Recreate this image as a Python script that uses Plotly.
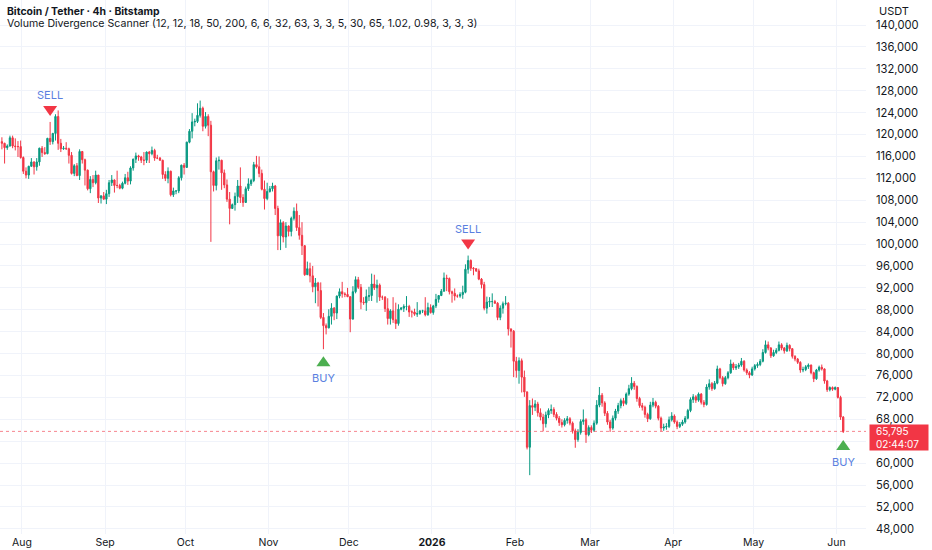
import pandas as pd
import plotly.graph_objects as go

# daily candles, thousands of USDT, 24 Jul 2025 -> 3 Jun 2026
opens = [
    118.7, 118.4, 117.6, 117.9, 119.4, 117.9, 117.8, 117.8,
    115.8, 113.3, 112.6, 114.2, 115.0, 114.1, 115.0, 117.5, 116.7, 116.5, 119.3, 118.7, 120.2, 123.3, 118.4, 117.4,
    117.5, 117.4, 116.2, 112.9, 114.3, 112.5, 116.9, 115.4, 113.5, 110.1, 111.8, 111.2, 112.6, 108.4, 108.8,
    108.2, 109.2, 111.2, 111.7, 110.7, 110.7, 110.2, 111.1, 112.1, 111.5, 113.9, 115.5, 116.1, 115.9, 115.3,
    115.3, 116.8, 116.5, 117.1, 115.7, 115.7, 115.3, 112.7, 112.0, 113.3, 109.0, 109.7, 109.7, 112.1, 114.4,
    114.0, 118.6, 120.6, 122.3, 122.4, 123.5, 124.8, 121.5, 123.3, 121.7, 113.2, 110.7, 115.2, 115.3, 113.0, 110.8,
    108.2, 106.5, 107.2, 108.7, 110.6, 108.5, 107.6, 110.1, 111.0, 111.6, 114.5, 114.1, 112.9, 110.0, 108.3,
    109.6, 110.1, 110.6, 106.5, 101.5, 103.9, 101.3, 103.3, 102.3, 104.7, 106.0, 103.0, 101.6, 99.7, 94.4,
    95.5, 94.2, 92.2, 92.9, 91.5, 86.6, 85.1, 84.7, 86.8, 88.3, 87.4, 90.5, 91.3, 90.9, 90.8,
    90.4, 86.3, 91.3, 93.5, 92.1, 89.4, 89.3, 90.4, 90.6, 92.7, 92.0, 92.5, 90.3, 90.3, 88.2, 86.4,
    87.8, 86.2, 85.5, 88.1, 88.3, 88.6, 88.6, 87.6, 87.6, 87.2, 87.3, 87.8, 87.8, 87.1, 88.4,
    87.5, 88.7, 89.9, 90.6, 91.4, 93.8, 93.7, 91.3, 91.0, 90.5, 90.5, 90.8, 91.2, 95.4, 97.0, 95.6,
    95.5, 95.1, 93.6, 92.6, 88.3, 89.4, 89.5, 89.5, 89.2, 86.6, 88.3, 89.1, 89.2, 84.5, 84.1,
    78.6, 76.9, 78.7, 75.7, 73.0, 62.9, 70.5, 70.2, 70.8, 69.2, 68.4, 67.2, 68.8, 69.6,
    69.8, 68.9, 68.2, 67.4, 67.0, 67.8, 68.1, 67.3, 65.9, 64.3, 65.6, 67.6, 67.9, 65.2,
    66.5, 66.0, 67.3, 70.6, 72.4, 71.0, 69.1, 67.5, 66.4, 68.2, 69.5, 70.5, 71.4, 70.9, 72.6, 73.6,
    74.6, 74.0, 71.8, 70.5, 70.2, 68.9, 68.1, 70.6, 71.1, 70.4, 68.2, 66.4, 66.6, 66.7, 67.9,
    68.6, 67.5, 66.7, 67.1, 67.5, 68.2, 69.6, 71.6, 72.1, 71.5, 72.6, 71.1, 70.7, 73.9, 74.5,
    73.6, 74.6, 77.2, 75.6, 74.5, 75.6, 76.5, 78.1, 77.4, 77.6, 77.9, 78.6, 77.0, 76.5, 76.1,
    77.2, 77.8, 78.0, 78.6, 80.2, 81.6, 81.0, 79.6, 80.2, 80.6, 81.6, 81.0, 80.5, 81.5, 80.9, 79.5,
    79.0, 78.4, 77.0, 77.1, 77.6, 77.9, 76.5, 75.4, 77.0, 77.5, 77.2, 75.0, 73.4, 73.8, 73.5,
    73.8, 72.0, 68.4,
]
highs = [
    119.5, 118.5, 118.2, 119.8, 119.8, 119.3, 118.8, 118.9,
    116.0, 114.0, 114.3, 115.7, 115.1, 115.7, 117.6, 117.9, 117.7, 119.4, 122.3, 120.3, 123.7, 124.4, 119.2, 117.9,
    118.6, 117.6, 116.8, 114.6, 114.8, 117.3, 117.0, 115.6, 113.6, 112.4, 112.6, 113.4, 112.6, 108.9, 109.5,
    109.9, 111.7, 112.6, 111.8, 113.4, 111.0, 111.4, 112.8, 113.2, 114.2, 115.6, 116.7, 116.3, 116.1, 116.8,
    116.9, 117.0, 117.8, 117.4, 116.3, 115.9, 115.4, 113.3, 114.0, 113.4, 110.3, 109.8, 112.4, 114.5, 114.8,
    118.7, 121.0, 123.9, 122.9, 125.7, 126.2, 125.1, 124.1, 123.7, 122.5, 113.4, 115.8, 116.0, 115.4, 113.6, 111.8,
    109.5, 107.4, 109.4, 111.7, 114.0, 109.1, 110.5, 112.0, 111.9, 115.0, 116.1, 116.0, 113.6, 111.6, 111.2,
    110.6, 111.2, 110.8, 107.0, 104.5, 104.2, 104.0, 103.4, 105.0, 106.7, 107.4, 105.3, 104.0, 99.8, 96.8,
    96.6, 96.0, 93.8, 93.1, 93.0, 87.4, 85.5, 88.1, 89.2, 88.5, 90.6, 91.9, 93.1, 91.2, 92.0,
    90.4, 92.3, 94.1, 94.0, 92.7, 90.3, 91.7, 92.2, 94.6, 94.4, 93.5, 92.8, 90.6, 90.5, 90.1, 88.1,
    90.3, 89.3, 89.0, 88.5, 89.0, 90.5, 88.9, 87.9, 88.2, 89.4, 87.9, 88.0, 90.3, 89.3, 89.0,
    88.9, 90.9, 90.7, 91.8, 94.8, 94.4, 93.9, 91.5, 91.9, 90.8, 91.2, 92.4, 96.3, 97.9, 97.2, 95.8,
    95.6, 95.5, 93.8, 93.1, 90.4, 90.3, 91.0, 89.8, 89.4, 88.8, 89.5, 90.5, 89.4, 84.6, 84.3,
    79.4, 79.3, 79.1, 76.9, 73.1, 71.5, 71.8, 71.5, 71.2, 70.0, 69.0, 69.4, 70.0, 70.7,
    70.2, 69.3, 68.6, 68.0, 68.2, 68.6, 68.4, 67.6, 66.3, 66.2, 68.0, 69.8, 68.2, 66.9,
    66.9, 67.8, 71.5, 73.9, 72.8, 71.3, 69.5, 67.9, 68.7, 69.9, 71.0, 71.8, 71.9, 72.9, 74.3, 75.7,
    75.0, 74.2, 72.1, 71.0, 70.5, 69.2, 71.2, 71.9, 71.4, 70.6, 68.5, 67.2, 67.3, 68.5, 69.3,
    68.9, 67.8, 67.5, 67.9, 68.6, 69.9, 72.0, 72.6, 72.4, 72.9, 72.8, 71.5, 74.4, 75.3, 74.8,
    75.0, 77.8, 77.4, 75.9, 75.9, 76.8, 78.9, 78.4, 78.1, 78.3, 79.2, 78.8, 77.3, 76.8, 77.6,
    78.1, 78.4, 79.0, 80.8, 82.4, 82.2, 81.2, 80.7, 81.0, 82.2, 81.9, 81.2, 82.0, 81.7, 81.0, 79.7,
    79.2, 78.6, 77.6, 77.9, 78.2, 78.0, 76.7, 77.2, 77.8, 78.0, 77.3, 75.2, 74.0, 74.0, 74.0,
    73.9, 72.3, 68.6,
]
lows = [
    117.3, 114.7, 117.2, 117.8, 117.5, 117.1, 115.9, 115.6,
    112.8, 112.0, 111.9, 114.1, 112.7, 113.4, 114.3, 115.9, 116.3, 116.4, 118.1, 118.2, 118.9, 117.2, 116.8, 117.2,
    117.2, 114.7, 112.7, 112.4, 112.4, 111.7, 114.7, 110.7, 109.8, 109.3, 110.4, 110.9, 107.5, 107.4, 108.1,
    107.3, 108.6, 110.6, 109.4, 110.2, 110.0, 110.0, 110.9, 110.8, 110.9, 113.4, 114.8, 115.2, 114.8, 114.4,
    114.8, 114.8, 116.2, 115.2, 115.5, 115.2, 111.9, 111.5, 111.1, 108.7, 108.6, 109.1, 109.3, 111.6, 112.7,
    113.9, 118.4, 119.3, 121.5, 122.1, 123.1, 120.6, 121.1, 119.7, 100.4, 109.6, 109.8, 113.6, 109.9, 110.2, 107.7,
    103.6, 106.4, 106.1, 107.5, 107.5, 106.8, 107.5, 109.7, 110.6, 111.3, 113.8, 112.2, 109.8, 106.3, 108.0,
    109.4, 109.6, 105.3, 98.9, 98.9, 100.3, 99.3, 101.4, 101.4, 104.3, 102.4, 100.8, 98.0, 94.2, 94.4,
    93.0, 91.2, 89.2, 88.6, 86.3, 80.8, 83.5, 84.6, 85.3, 86.1, 86.3, 90.1, 90.2, 90.3, 90.3,
    83.9, 86.2, 91.0, 91.8, 88.1, 88.9, 87.8, 89.6, 89.6, 91.6, 89.3, 89.6, 89.8, 87.6, 85.3, 85.3,
    85.6, 84.5, 85.1, 87.9, 87.6, 87.9, 86.7, 86.6, 86.9, 86.7, 87.1, 87.4, 86.8, 86.9, 87.3,
    87.1, 88.3, 89.3, 90.5, 91.3, 91.4, 90.8, 89.3, 89.7, 90.2, 90.2, 90.0, 91.0, 94.6, 95.1, 94.3,
    94.9, 93.4, 91.9, 87.9, 87.3, 88.5, 88.5, 89.1, 86.1, 86.1, 87.3, 88.8, 83.3, 81.1, 75.7,
    75.6, 74.5, 72.9, 72.1, 62.5, 57.8, 68.8, 69.5, 68.5, 67.8, 65.8, 66.5, 68.2, 69.0,
    68.4, 67.8, 66.8, 66.5, 66.7, 67.2, 66.9, 65.4, 62.8, 63.9, 65.2, 67.0, 63.7, 64.9,
    65.5, 65.7, 67.0, 70.2, 70.3, 68.6, 67.0, 65.7, 66.1, 67.8, 69.0, 70.0, 70.4, 70.6, 72.3, 73.3,
    73.4, 71.2, 70.1, 69.6, 68.3, 67.5, 67.9, 70.2, 70.0, 67.8, 65.8, 65.9, 66.1, 66.4, 67.6,
    67.2, 66.2, 66.4, 66.8, 67.2, 68.0, 69.3, 71.0, 71.0, 71.2, 70.7, 70.2, 70.5, 73.4, 73.2,
    73.4, 74.4, 75.3, 74.0, 74.3, 75.3, 76.3, 77.0, 77.0, 77.2, 77.6, 76.7, 76.1, 75.5, 75.9,
    76.9, 77.4, 77.7, 78.4, 80.0, 80.6, 79.2, 79.4, 79.9, 80.4, 80.6, 80.0, 80.3, 80.4, 79.1, 78.6,
    78.1, 76.5, 76.6, 76.8, 77.2, 76.2, 74.8, 75.2, 76.7, 76.9, 74.5, 73.0, 73.1, 73.2, 73.3,
    71.8, 67.9, 65.5,
]
closes = [
    118.4, 117.6, 117.9, 119.4, 117.9, 117.8, 117.8, 115.8,
    113.3, 112.6, 114.2, 115.0, 114.1, 115.0, 117.5, 116.7, 116.5, 119.3, 118.7, 120.2, 123.3, 118.4, 117.4, 117.5,
    117.4, 116.2, 112.9, 114.3, 112.5, 116.9, 115.4, 113.5, 110.1, 111.8, 111.2, 112.6, 108.4, 108.8, 108.2,
    109.2, 111.2, 111.7, 110.7, 110.7, 110.2, 111.1, 112.1, 111.5, 113.9, 115.5, 116.1, 115.9, 115.3, 115.3,
    116.8, 116.5, 117.1, 115.7, 115.7, 115.3, 112.7, 112.0, 113.3, 109.0, 109.7, 109.7, 112.1, 114.4, 114.0,
    118.6, 120.6, 122.3, 122.4, 123.5, 124.8, 121.5, 123.3, 121.7, 113.2, 110.7, 115.2, 115.3, 113.0, 110.8, 108.2,
    106.5, 107.2, 108.7, 110.6, 108.5, 107.6, 110.1, 111.0, 111.6, 114.5, 114.1, 112.9, 110.0, 108.3, 109.6,
    110.1, 110.6, 106.5, 101.5, 103.9, 101.3, 103.3, 102.3, 104.7, 106.0, 103.0, 101.6, 99.7, 94.4, 95.5,
    94.2, 92.2, 92.9, 91.5, 86.6, 85.1, 84.7, 86.8, 88.3, 87.4, 90.5, 91.3, 90.9, 90.8, 90.4,
    86.3, 91.3, 93.5, 92.1, 89.4, 89.3, 90.4, 90.6, 92.7, 92.0, 92.5, 90.3, 90.3, 88.2, 86.4, 87.8,
    86.2, 85.5, 88.1, 88.3, 88.6, 88.6, 87.6, 87.6, 87.2, 87.3, 87.8, 87.8, 87.1, 88.4, 87.5,
    88.7, 89.9, 90.6, 91.4, 93.8, 93.7, 91.3, 91.0, 90.5, 90.5, 90.8, 91.2, 95.4, 97.0, 95.6, 95.5,
    95.1, 93.6, 92.6, 88.3, 89.4, 89.5, 89.5, 89.2, 86.6, 88.3, 89.1, 89.2, 84.5, 84.1, 78.6,
    76.9, 78.7, 75.7, 73.0, 62.9, 70.5, 70.2, 70.8, 69.2, 68.4, 67.2, 68.8, 69.6, 69.8,
    68.9, 68.2, 67.4, 67.0, 67.8, 68.1, 67.3, 65.9, 64.3, 65.6, 67.6, 67.9, 65.2, 66.5,
    66.0, 67.3, 70.6, 72.4, 71.0, 69.1, 67.5, 66.4, 68.2, 69.5, 70.5, 71.4, 70.9, 72.6, 73.6, 74.6,
    74.0, 71.8, 70.5, 70.2, 68.9, 68.1, 70.6, 71.1, 70.4, 68.2, 66.4, 66.6, 66.7, 67.9, 68.6,
    67.5, 66.7, 67.1, 67.5, 68.2, 69.6, 71.6, 72.1, 71.5, 72.6, 71.1, 70.7, 73.9, 74.5, 73.6,
    74.6, 77.2, 75.6, 74.5, 75.6, 76.5, 78.1, 77.4, 77.6, 77.9, 78.6, 77.0, 76.5, 76.1, 77.2,
    77.8, 78.0, 78.6, 80.2, 81.6, 81.0, 79.6, 80.2, 80.6, 81.6, 81.0, 80.5, 81.5, 80.9, 79.5, 79.0,
    78.4, 77.0, 77.1, 77.6, 77.9, 76.5, 75.4, 77.0, 77.5, 77.2, 75.0, 73.4, 73.8, 73.5, 73.8,
    72.0, 68.4, 65.795,
]
assert len(opens) == len(highs) == len(lows) == len(closes) == 315

# indicator signals (bar date, kind)
signal_dates = ["2025-08-11", "2025-11-21", "2026-01-14", "2026-06-03"]
signal_types = ["SELL", "BUY", "SELL", "BUY"]

month_ticks = ["2025-08-01", "2025-09-01", "2025-10-01", "2025-11-01", "2025-12-01", "2026-01-01",
               "2026-02-01", "2026-03-01", "2026-04-01", "2026-05-01", "2026-06-01"]
month_labels = ["Aug", "Sep", "Oct", "Nov", "Dec", "<b>2026</b>", "Feb", "Mar", "Apr", "May", "Jun"]
price_levels = list(range(48000, 140001, 4000))
countdown = "02:44:07"

K = 1000
dates = pd.date_range("2025-07-24 12:00", periods=len(closes), freq="D")
last = closes[-1] * K

# like TradingView, the scale label hidden under the last-price tag is not drawn
price_labels = [f"{v:,}" if abs(v - last) > 2000 else "" for v in price_levels]

UP = "#089981"
DOWN = "#F23645"
TXT = "#131722"
GRID = "#f0f3fa"
FONT = "Inter"

fig = go.Figure()

fig.add_trace(go.Candlestick(
    x=dates,
    open=[v * K for v in opens], high=[v * K for v in highs],
    low=[v * K for v in lows], close=[v * K for v in closes],
    increasing=dict(line=dict(color=UP, width=1), fillcolor=UP),
    decreasing=dict(line=dict(color=DOWN, width=1), fillcolor=DOWN),
    whiskerwidth=0, hoverinfo="skip", showlegend=False,
))

# last price dotted line
fig.add_hline(y=last, line=dict(color=DOWN, width=1, dash="dot"), opacity=0.6)

# price tag on the axis: red box, then the two text lines stacked inside it
fig.add_annotation(x=1, xref="paper", y=last, yref="y", xanchor="left", yanchor="middle",
                   xshift=3, yshift=-6.5, showarrow=False, text=" ", bgcolor=DOWN,
                   borderpad=0, width=58, height=25, font=dict(size=10))
fig.add_annotation(x=1, xref="paper", y=last, yref="y", xanchor="left", yanchor="middle",
                   xshift=9, yshift=0, showarrow=False, text=f"{last:,.0f}", borderpad=0,
                   font=dict(family=FONT, size=10, color="white"))
fig.add_annotation(x=1, xref="paper", y=last, yref="y", xanchor="left", yanchor="middle",
                   xshift=9, yshift=-13, showarrow=False, text=countdown, borderpad=0,
                   font=dict(family=FONT, size=10, color="white"))

# signals
for d, kind in zip(signal_dates, signal_types):
    i = dates.get_loc(pd.Timestamp(d + " 12:00"))
    xa = str(dates[i])
    if kind == "SELL":
        anchor = highs[i] * K
        path = "M -7,16 L 7,16 L 0,6 Z"
        col = DOWN
        tshift = 27
    else:
        anchor = lows[i] * K
        path = "M -7,-17 L 7,-17 L 0,-7 Z"
        col = "#4CAF50"
        tshift = -29
    fig.add_shape(type="path", xref="x", yref="y", xsizemode="pixel", ysizemode="pixel",
                  xanchor=xa, yanchor=anchor, path=path, fillcolor=col, line=dict(width=0))
    fig.add_annotation(x=xa, y=anchor, text=kind, showarrow=False, yshift=tshift,
                       font=dict(family=FONT, size=11, color="#5a7fe0"))

# header texts
fig.add_annotation(x=0, y=1, xref="paper", yref="paper", xanchor="left", yanchor="middle",
                   xshift=5, yshift=-11, showarrow=False,
                   text="<b>Bitcoin / Tether · 4h · Bitstamp</b>",
                   font=dict(family=FONT, size=10.4, color=TXT))
fig.add_annotation(x=0, y=1, xref="paper", yref="paper", xanchor="left", yanchor="middle",
                   xshift=5, yshift=-23, showarrow=False,
                   text="Volume Divergence Scanner (12, 12, 18, 50, 200, 6, 6, 32, 63, 3, 3, 5, 30, 65, 1.02, 0.98, 3, 3, 3)",
                   font=dict(family=FONT, size=10.6, color=TXT))
fig.add_annotation(x=1, y=1, xref="paper", yref="paper", xanchor="left", yanchor="middle",
                   xshift=11, yshift=-11, showarrow=False, text="USDT",
                   font=dict(family=FONT, size=11, color=TXT))

fig.update_layout(
    width=932, height=550,
    margin=dict(l=0, r=66, t=0, b=16),
    paper_bgcolor="white", plot_bgcolor="white",
    font=dict(family=FONT, size=11, color=TXT),
    showlegend=False,
    xaxis=dict(
        range=["2025-07-23 19:00", "2026-06-12 00:00"],
        tickvals=month_ticks, ticktext=month_labels,
        showgrid=True, gridcolor=GRID, gridwidth=1,
        zeroline=False, showline=False, ticks="",
        rangeslider=dict(visible=False),
        tickfont=dict(family=FONT, size=10.5, color=TXT),
    ),
    yaxis=dict(
        side="right", range=[47057, 144565],
        tickvals=price_levels, ticktext=price_labels,
        showgrid=True, gridcolor=GRID, gridwidth=1,
        zeroline=False, showline=False, ticks="",
        ticklabelstandoff=9,
        tickfont=dict(family=FONT, size=11.2, color=TXT),
    ),
)

# page body has a default 8px margin; drop it so the figure sits at the window corner
fig.write_html("out.html", config={"displayModeBar": False},
               post_script="document.body.style.margin='0';")
